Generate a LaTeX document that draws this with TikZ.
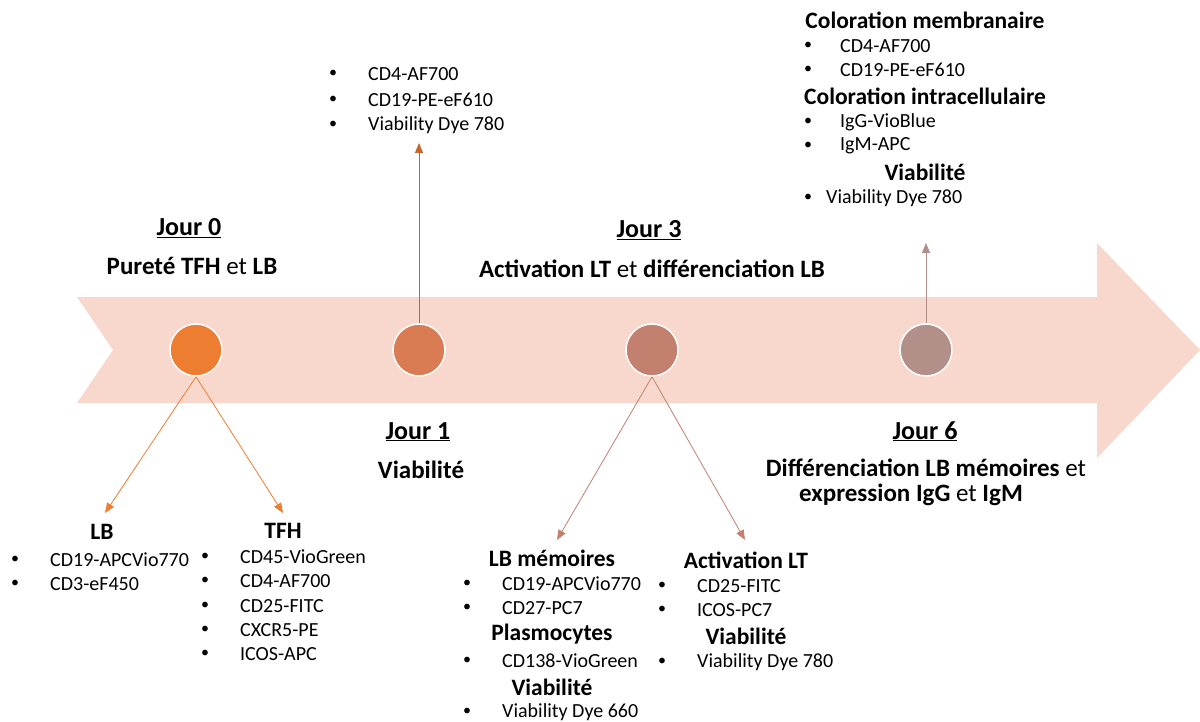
\documentclass[tikz,border=0pt]{standalone}
\usepackage{fontspec}
\setmainfont{Carlito}
\usetikzlibrary{arrows.meta}
\definecolor{band}{HTML}{F8D8CC}
\definecolor{cA}{HTML}{ED7D31}
\definecolor{cB}{HTML}{D97B53}
\definecolor{cC}{HTML}{C4806F}
\definecolor{cD}{HTML}{B28F88}
\definecolor{lB}{HTML}{C8662A}
\begin{document}
\begin{tikzpicture}[x=1pt,y=-1pt,
  dot/.style={circle,minimum size=52pt,inner sep=0pt,draw=white,line width=1.5pt},
  li/.style={anchor=west,inner sep=0pt,font=\fontsize{20}{24}\selectfont},
  bu/.style={anchor=center,inner sep=0pt,font=\fontsize{16}{20}\selectfont},
  hd/.style={anchor=center,inner sep=0pt,font=\fontsize{23.5}{28}\selectfont\bfseries},
  day/.style={anchor=base,inner sep=0pt,font=\fontsize{26}{30}\selectfont\bfseries},
  tx/.style={anchor=base,inner sep=0pt,font=\fontsize{25}{30}\selectfont},
  con/.style={line width=0.8pt,-{Triangle[length=10pt,width=8pt]}}]
\useasboundingbox (0,0) rectangle (1200,722);
% band arrow
\fill[band] (77,297) -- (1097,297) -- (1097,243) -- (1200,350) -- (1097,458) -- (1097,403) -- (77,403) -- (113,350) -- cycle;
% circles
\node[dot,fill=cA] (d0) at (196,350) {};
\node[dot,fill=cB] (d1) at (419,350) {};
\node[dot,fill=cC] (d3) at (652,350) {};
\node[dot,fill=cD] (d6) at (926,350) {};
% day labels
\node[day] (j0) at (189,236) {\underline{Jour 0}};
\node[tx] (j0t) at (192,275) {\textbf{Pureté TFH} et \textbf{LB}};
\node[day] (j3) at (649,238) {\underline{Jour 3}};
\node[tx] (j3t) at (652,277) {\textbf{Activation LT} et \textbf{différenciation LB}};
\node[day] (j1) at (418,439) {\underline{Jour 1}};
\node[tx] (j1t) at (421,478) {\textbf{Viabilité}};
\node[day] (j6) at (925,439) {\underline{Jour 6}};
\node[tx] (j6t) at (926,476) {\textbf{Différenciation LB mémoires} et};
\node[tx] (j6u) at (911,501) {\textbf{expression IgG} et \textbf{IgM}};
% Jour 1 list
\coordinate (t1) at (419,143);
\node[bu] (p1a) at (333,74) {•}; \node[li] (q1a) at (368,74) {CD4-AF700};
\node[bu] (p1b) at (333,100) {•}; \node[li] (q1b) at (368,100) {CD19-PE-eF610};
\node[bu] (p1c) at (333,125) {•}; \node[li] (q1c) at (368,125) {Viability Dye 780};
% Jour 6 list
\coordinate (t6) at (926,243);
\node[hd] (h6a) at (925,20) {Coloration membranaire};
\node[bu] (p6a) at (808,46) {•}; \node[li] (q6a) at (840,46) {CD4-AF700};
\node[bu] (p6b) at (808,70) {•}; \node[li] (q6b) at (840,70) {CD19-PE-eF610};
\node[hd] (h6b) at (925,96) {Coloration intracellulaire};
\node[bu] (p6c) at (808,122) {•}; \node[li] (q6c) at (840,122) {IgG-VioBlue};
\node[bu] (p6d) at (808,146) {•}; \node[li] (q6d) at (840,146) {IgM-APC};
\node[hd] (h6c) at (925,172) {Viabilité};
\node[bu] (p6e) at (808,198) {•}; \node[li] (q6e) at (826,198) {Viability Dye 780};
% LB list
\coordinate (tLB) at (105,513);
\node[hd] (hLB) at (102,532) {LB};
\node[bu] (pLa) at (15,560) {•}; \node[li] (qLa) at (50,560) {CD19-APCVio770};
\node[bu] (pLb) at (15,584) {•}; \node[li] (qLb) at (50,584) {CD3-eF450};
% TFH list
\coordinate (tTF) at (283,513);
\node[hd] (hTF) at (283,531) {TFH};
\node[bu] (pTa) at (205,557) {•}; \node[li] (qTa) at (240,557) {CD45-VioGreen};
\node[bu] (pTb) at (205,581) {•}; \node[li] (qTb) at (240,581) {CD4-AF700};
\node[bu] (pTc) at (205,606) {•}; \node[li] (qTc) at (240,606) {CD25-FITC};
\node[bu] (pTd) at (205,630) {•}; \node[li] (qTd) at (240,630) {CXCR5-PE};
\node[bu] (pTe) at (205,654) {•}; \node[li] (qTe) at (240,654) {ICOS-APC};
% LB memoires list
\coordinate (tLM) at (557,540);
\node[hd] (hLM) at (552,558) {LB mémoires};
\node[bu] (pMa) at (467,584) {•}; \node[li] (qMa) at (502,584) {CD19-APCVio770};
\node[bu] (pMb) at (467,608) {•}; \node[li] (qMb) at (502,608) {CD27-PC7};
\node[hd] (hPl) at (552,634) {Plasmocytes};
\node[bu] (pMc) at (467,661) {•}; \node[li] (qMc) at (502,661) {CD138-VioGreen};
\node[hd] (hVi) at (552,687) {Viabilité};
\node[bu] (pMd) at (467,712) {•}; \node[li] (qMd) at (502,712) {Viability Dye 660};
% Activation LT list
\coordinate (tAL) at (745,540);
\node[hd] (hAL) at (746,560) {Activation LT};
\node[bu] (pAa) at (662,586) {•}; \node[li] (qAa) at (697,586) {CD25-FITC};
\node[bu] (pAb) at (662,610) {•}; \node[li] (qAb) at (697,610) {ICOS-PC7};
\node[hd] (hAV) at (746,636) {Viabilité};
\node[bu] (pAc) at (662,662) {•}; \node[li] (qAc) at (697,662) {Viability Dye 780};
% connectors
\draw[con,cA] (d0.south) -- (tLB);
\draw[con,cA] (d0.south) -- (tTF);
\draw[con,lB] (d1.north) -- (t1);
\draw[con,cC] (d3.south) -- (tLM);
\draw[con,cC] (d3.south) -- (tAL);
\draw[con,cD] (d6.north) -- (t6);
\end{tikzpicture}
\end{document}
